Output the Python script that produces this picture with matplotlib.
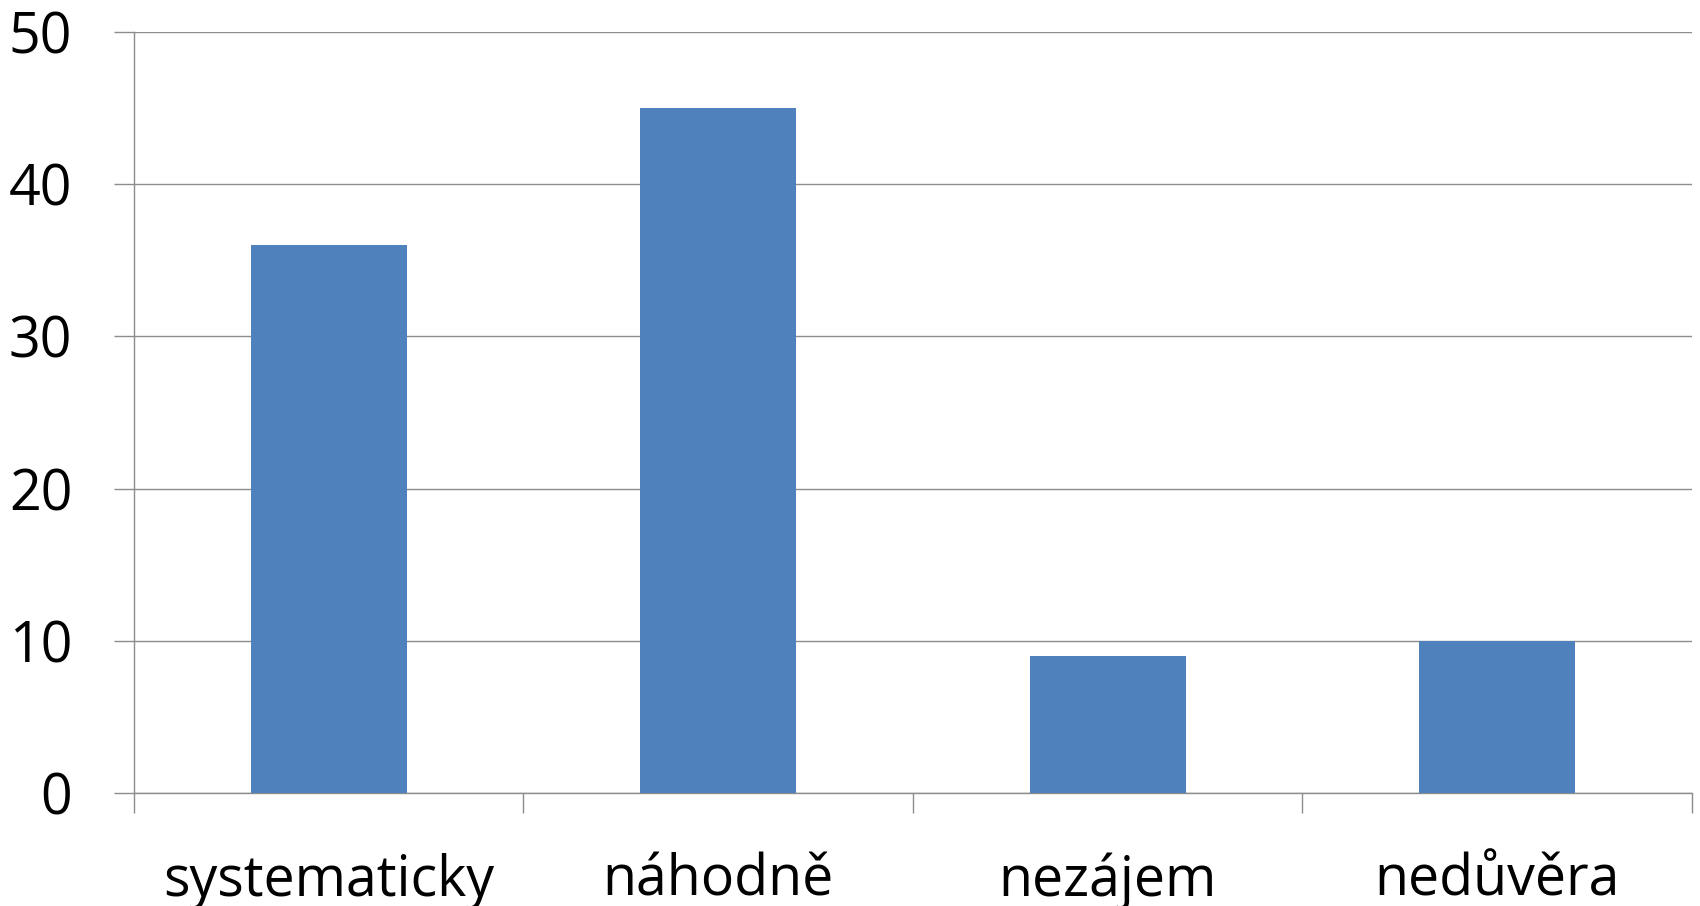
import matplotlib.pyplot as plt
import numpy as np

categories = ["systematicky", "náhodně", "nezájem", "nedůvěra"]
values = [36, 45, 9, 10]
y_ticks = [0, 10, 20, 30, 40, 50]

bar_color = "#4F81BD"
line_color = "#8C8C8C"

plt.rcParams["font.family"] = ["Open Sans", "DejaVu Sans"]

fig = plt.figure(figsize=(17, 9.06), dpi=100)
ax = fig.add_axes([0.0788, 0.1247, 0.9165, 0.84])

x = np.arange(len(categories))
ax.bar(x, values, width=0.4, color=bar_color, zorder=3)

ax.set_xlim(-0.5, len(categories) - 0.5)
ax.set_ylim(0, 50)
ax.set_yticks(y_ticks)
ax.yaxis.grid(True, color=line_color, linewidth=1.0, zorder=0)

ax.set_xticks(x)
ax.set_xticklabels(categories)
ax.set_xticks(np.arange(-0.5, len(categories)), minor=True)
ax.tick_params(axis="x", which="major", length=0, pad=43, labelsize=40)
ax.tick_params(axis="x", which="minor", length=14.4, width=1.0, color=line_color)
ax.tick_params(axis="y", length=14.4, width=1.0, color=line_color, pad=30, labelsize=40)

for side in ("top", "right"):
    ax.spines[side].set_visible(False)
for side in ("left", "bottom"):
    ax.spines[side].set_color(line_color)
    ax.spines[side].set_linewidth(1.0)

fig.savefig("out.png", dpi=100)
